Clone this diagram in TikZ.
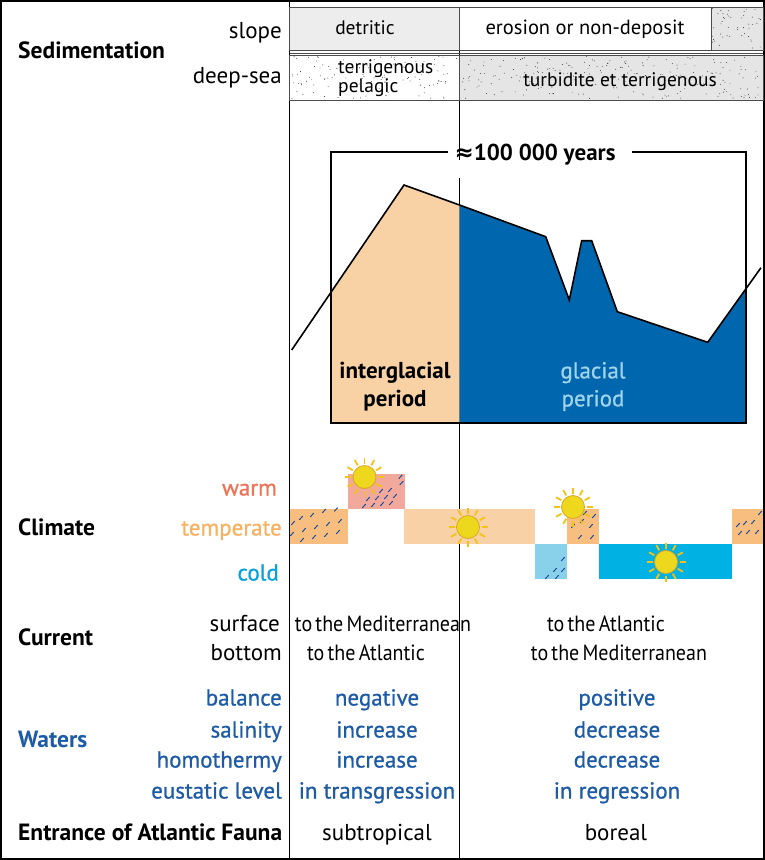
\documentclass[tikz,border=0pt]{standalone}
\usepackage{fontspec}
\setmainfont{PT Sans}
\newfontfamily\semib[FakeBold=0.8]{PT Sans}
\newfontfamily\condf[FakeStretch=0.91, WordSpace=0.6]{PT Sans}
\newfontfamily\symf{DejaVu Sans}
\definecolor{tanfill}{HTML}{F8D1A5}
\definecolor{glblue}{HTML}{0066AD}
\definecolor{gltext}{HTML}{9FD3EA}
\definecolor{warmbox}{HTML}{F2A89B}
\definecolor{tempbox}{HTML}{F7BE7F}
\definecolor{tempplain}{HTML}{F8D2A6}
\definecolor{coldlight}{HTML}{89D0EA}
\definecolor{coldbox}{HTML}{00B2E3}
\definecolor{dashblue}{HTML}{1D4F9C}
\definecolor{sunyel}{HTML}{EDD81E}
\definecolor{sunedge}{HTML}{D9A81F}
\definecolor{warmtxt}{HTML}{EC7358}
\definecolor{temptxt}{HTML}{F6B162}
\definecolor{coldtxt}{HTML}{0AA1DB}
\definecolor{watblue}{HTML}{1D5BA6}
\tikzset{
  txt/.style={inner sep=0pt, text height=21pt, text depth=4pt, font=\fontsize{23}{26}\selectfont},
  head/.style={txt, anchor=west, font=\bfseries\fontsize{23.5}{26}\selectfont},
  rlab/.style={txt, anchor=east},
  sem/.style={txt, font=\semib\fontsize{23}{26}\selectfont},
  semr/.style={rlab, font=\semib\fontsize{23}{26}\selectfont},
  cur/.style={txt, font=\condf\fontsize{22}{26}\selectfont},
  celltxt/.style={inner sep=0pt, text height=17pt, text depth=3.5pt, font=\fontsize{19.5}{21}\selectfont},
  cellbox/.style={draw=black!70, line width=0.9pt},
  rule/.style={draw=black, line width=1pt},
  chartline/.style={draw=black, line width=1.6pt, line join=miter},
  dsh/.style={draw=dashblue, line width=1pt},
  sunray/.style={draw=sunyel!75!orange, line width=1.8pt},
  sunbody/.style={fill=sunyel, draw=sunedge, line width=0.8pt},
  sunpic/.pic={
    \foreach \a in {0,30,...,330} \draw[sunray] (\a:13.5) -- (\a:19.5);
    \draw[sunbody] (0,0) circle (11.5);
  }
}
\newcommand\rain[2]{\draw[dsh] (#1-1.7,#2+1.9) -- (#1+1.7,#2-1.9);}
\begin{document}
\begin{tikzpicture}[x=1pt,y=-1pt]
\useasboundingbox (0,0) rectangle (765,860);
\pgfmathsetseed{11}
% frame and column rules
\draw[line width=2pt] (1,1) rectangle (764,859);
\draw[rule] (289.5,0) -- (289.5,860);
\draw[rule] (459.5,7) -- (459.5,160);
\draw[rule] (459.5,178) -- (459.5,860);

% ---------- Sedimentation ----------
\draw[cellbox, fill=black!7] (289.5,7) rectangle (459.5,50);
\draw[cellbox, fill=white] (459.5,7) rectangle (711,50);
\draw[cellbox, fill=black!10] (711,7) rectangle (763,50);
\foreach \i in {1,...,45} \fill[black!85] (712+rnd*50, 8+rnd*41) circle (0.45);
\draw[cellbox] (289.5,53) -- (763,53);
\draw[cellbox, fill=white] (289.5,55) rectangle (459.5,100);
\draw[cellbox, fill=black!10] (459.5,55) rectangle (763,100);
\foreach \i in {1,...,120} \fill[black!85] (291+rnd*167, 56.5+rnd*42) circle (0.45);
\foreach \i in {1,...,220} \fill[black!85] (461+rnd*300, 56.5+rnd*42) circle (0.45);

\node[celltxt] (detr) at (365,28) {detritic};
\node[celltxt, font=\fontsize{20.5}{22}\selectfont] (eros) at (585,28) {erosion or non-deposit};
\node[celltxt, anchor=west] (terr) at (338,67) {terrigenous};
\node[celltxt, anchor=west] (pela) at (338,86) {pelagic};
\node[celltxt] (turb) at (620,80) {turbidite et terrigenous};

\node[head] (sedi) at (18,50) {Sedimentation};
\node[rlab] (slope) at (282,30) {slope};
\node[rlab] (deep) at (282,75) {deep-sea};

% ---------- Chart ----------
\coordinate (cTL) at (331,152);
\coordinate (cTR) at (746,152);
\coordinate (cBL) at (331,423);
\coordinate (cBR) at (746,423);
\fill[tanfill] (331,292.3) -- (404,185) -- (459.5,205) -- (459.5,423) -- (331,423) -- cycle;
\fill[glblue] (459.5,205) -- (545.7,236.7) -- (569.3,300) -- (581.7,240.7) -- (591.7,240.7)
   -- (617.3,311.7) -- (707.7,342.3) -- (746,288.7) -- (746,423) -- (459.5,423) -- cycle;
\draw[chartline] (291.7,350) -- (404,185) -- (459.5,205) -- (545.7,236.7) -- (569.3,300)
   -- (581.7,240.7) -- (591.7,240.7) -- (617.3,311.7) -- (707.7,342.3) -- (761,267.7);
\node[inner sep=0pt, font=\bfseries\fontsize{23}{25}\selectfont] (span) at (535,155) {{\symf\bfseries ≈}100 000 years};
\draw[line width=1.5pt] ([xshift=-6pt]span.west |- cTL) -- (cTL) -- (cBL) -- (cBR) -- (cTR) -- ([xshift=16pt]span.east |- cTR);
\node[align=center, inner sep=0pt, font=\bfseries\fontsize{23}{28}\selectfont] (inter) at (395,386.5) {interglacial\\period};
\node[align=center, inner sep=0pt, text=gltext, font=\semib\fontsize{23}{28}\selectfont] (glac) at (593,386.5) {glacial\\period};

% ---------- Climate ----------
\fill[tempbox] (289.5,509.3) rectangle (347.7,544);
\fill[warmbox] (347.7,474) rectangle (405,509.3);
\fill[tempplain] (404,509.3) rectangle (535,544);
\fill[coldlight] (535,544) rectangle (567.3,579.3);
\fill[tempbox] (567.3,509.3) rectangle (599.3,544);
\fill[coldbox] (599.3,544) rectangle (732.3,579.3);
\fill[tempbox] (732.3,509.3) rectangle (763,544);
% rain marks
\foreach \x/\y in {293/523, 301/518, 312/515, 324/511, 336/509.5,
                   292/534, 304/530, 316/527, 328/524, 340/521,
                   302/540, 314/537, 326/535, 338/532}{\rain{\x}{\y}}
\foreach \x/\y in {400.5/476.7, 401.5/483, 364/506, 373/505, 382/504, 391/503,
                   368/499, 377/498, 386/497, 395/496, 381/491, 390/490}{\rain{\x}{\y}}
\foreach \x/\y in {585/513, 594/516, 582/521, 591/526, 573/526, 580/537, 592/537}{\rain{\x}{\y}}
\foreach \x/\y in {738/525, 745/523, 753/522, 760/513, 740/533, 748/532, 757/532}{\rain{\x}{\y}}
\foreach \x/\y in {563/559, 563/570, 555/570, 547/577, 557/577}{\rain{\x}{\y}}
% suns
\pic at (364.5,477) {sunpic};
\pic at (468,527) {sunpic};
\pic at (573,507) {sunpic};
\pic at (666,562) {sunpic};

\node[head] (clim) at (18,527) {Climate};
\node[semr, text=warmtxt] (warm) at (277,487) {warm};
\node[semr, text=temptxt] (temp) at (282,527) {temperate};
\node[semr, text=coldtxt] (cold) at (279,572) {cold};

% ---------- Current ----------
\node[head] (curr) at (18,637) {Current};
\node[rlab] (surf) at (280,623) {surface};
\node[rlab] (bott) at (282,652) {bottom};
\node[cur] (c1) at (383,623) {to the Mediterranean};
\node[cur] (c2) at (366,652) {to the Atlantic};
\node[cur] (c3) at (606,623) {to the Atlantic};
\node[cur] (c4) at (619,652) {to the Mediterranean};

% ---------- Waters ----------
\node[head, text=watblue] (wat) at (18,739) {Waters};
\node[semr, text=watblue] (bal) at (282,697) {balance};
\node[semr, text=watblue] (sal) at (282,729) {salinity};
\node[semr, text=watblue] (hom) at (282,759) {homothermy};
\node[semr, text=watblue] (eus) at (282,790) {eustatic level};
\node[sem, text=watblue] (w1) at (377,697) {negative};
\node[sem, text=watblue] (w2) at (377,729) {increase};
\node[sem, text=watblue] (w3) at (377,759) {increase};
\node[sem, text=watblue] (w4) at (377,790) {in transgression};
\node[sem, text=watblue] (w5) at (617,697) {positive};
\node[sem, text=watblue] (w6) at (617,729) {decrease};
\node[sem, text=watblue] (w7) at (617,759) {decrease};
\node[sem, text=watblue] (w8) at (617,790) {in regression};

% ---------- Fauna ----------
\node[head] (faun) at (18,832) {Entrance of Atlantic Fauna};
\node[txt] (f1) at (377,832) {subtropical};
\node[txt] (f2) at (616,832) {boreal};
\end{tikzpicture}
\end{document}
